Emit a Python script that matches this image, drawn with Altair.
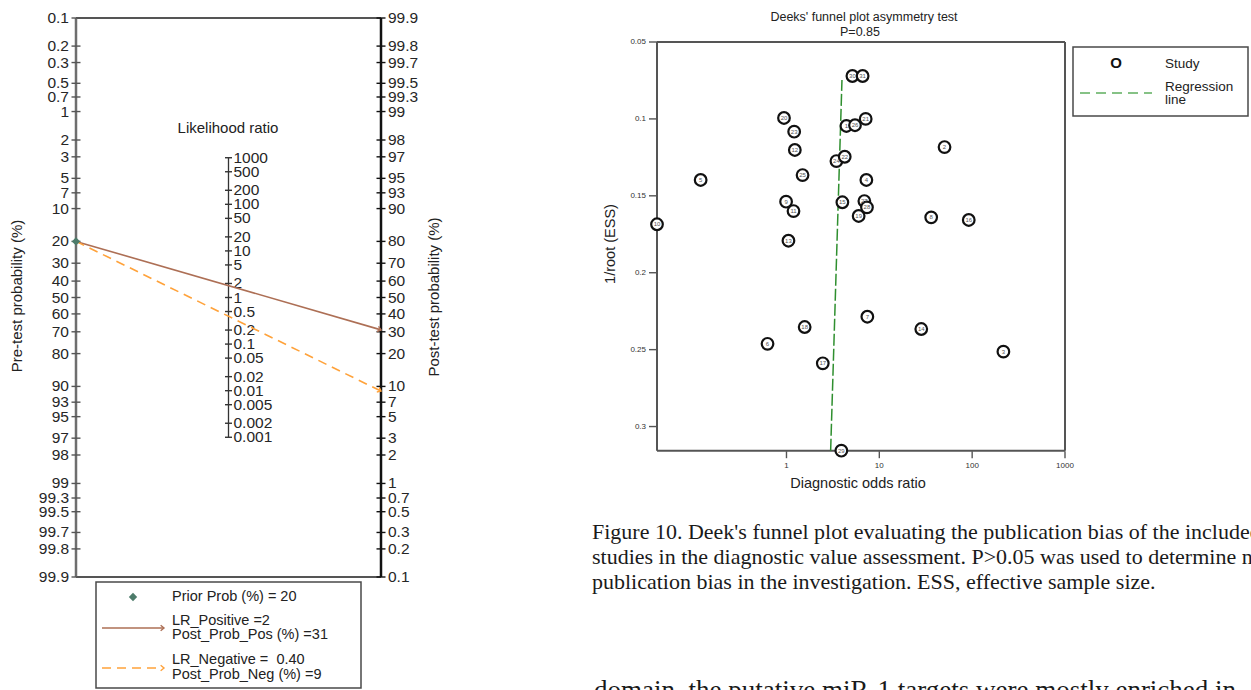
import math

import altair as alt
import pandas as pd

CANVAS_W, CANVAS_H = 1251, 690
SANS = "Liberation Sans"
SERIF = "Liberation Serif"

# ---------------- Fagan nomogram inputs ----------------
PROB_TICKS = [0.1, 0.2, 0.3, 0.5, 0.7, 1, 2, 3, 5, 7, 10, 20, 30, 40, 50, 60,
              70, 80, 90, 93, 95, 97, 98, 99, 99.3, 99.5, 99.7, 99.8, 99.9]
LR_TICKS = [1000, 500, 200, 100, 50, 20, 10, 5, 2, 1, 0.5, 0.2, 0.1, 0.05,
            0.02, 0.01, 0.005, 0.002, 0.001]
PRIOR_PROB = 20
LR_POSITIVE = 2
POST_PROB_POS = 31
LR_NEGATIVE = 0.40
POST_PROB_NEG = 9

# ---------------- Deeks' funnel plot inputs ----------------
STUDY = [30, 31, 20, 23, 12, 25, 5, 1, 26, 21, 24, 22, 4, 9, 11, 15,
         27, 28, 19, 10, 13, 2, 8, 16, 3, 14, 7, 18, 6, 17, 29]
DOR = [5.13, 6.61, 0.94, 1.21, 1.23, 1.49, 0.119, 4.42, 5.47, 7.13, 3.45,
       4.24, 7.25, 0.99, 1.19, 4.0, 6.90, 7.36, 5.99, 0.0403, 1.05, 50.4,
       36.2, 91.9, 217, 28.3, 7.43, 1.57, 0.625, 2.46, 3.90]
INV_ROOT_ESS = [0.0721, 0.0721, 0.0994, 0.1083, 0.1202, 0.1365, 0.1397,
                0.1046, 0.1041, 0.1000, 0.1274, 0.1246, 0.1397, 0.1538,
                0.1599, 0.1542, 0.1534, 0.1575, 0.1631, 0.1685, 0.1792,
                0.1183, 0.1640, 0.1657, 0.2513, 0.2366, 0.2286, 0.2353,
                0.2462, 0.2589, 0.3157]
REG_DOR = [3.96, 2.99]
REG_INV_ROOT_ESS = [0.0747, 0.3157]
DOR_TICKS = [1, 10, 100, 1000]
ESS_TICKS = [0.05, 0.1, 0.15, 0.2, 0.25, 0.3]
DEEKS_P = 0.85

CAPTION = [
    "Figure 10. Deek's funnel plot evaluating the publication bias of the included",
    "studies in the diagnostic value assessment. P>0.05 was used to determine no",
    "publication bias in the investigation. ESS, effective sample size.",
]
BODY_LINE = "domain, the putative miR-1 targets were mostly enriched in"

# ---------------- colours ----------------
POS_COLOR = "#ad6f55"
NEG_COLOR = "#ffa23a"
PRIOR_COLOR = "#4d7b6a"
REG_COLOR = "#2f8f2f"
REG_LEGEND_COLOR = "#86c286"
AXIS_GREY = "#555555"


def log_odds(p):
    return math.log10(p / (100 - p))


# ---------------- nomogram geometry (pixel ranges of the scales) ----------------
NOM_X_RANGE = [76, 381]
NOM_Y_RANGE = [18, 577]
U_MAX = log_odds(max(PROB_TICKS))
nom_x = alt.Scale(domain=[0, 2], range=NOM_X_RANGE)
nom_y = alt.Scale(domain=[-U_MAX, U_MAX], range=NOM_Y_RANGE)


def nx(field):
    return alt.X(f"{field}:Q", scale=nom_x, axis=None)


def ny(field):
    return alt.Y(f"{field}:Q", scale=nom_y, axis=None)


pre_df = pd.DataFrame({"pos": 0.0, "u": [log_odds(p) for p in PROB_TICKS],
                       "label": [f"{p:g}" for p in PROB_TICKS]})
post_df = pd.DataFrame({"pos": 2.0, "u": [-log_odds(p) for p in PROB_TICKS],
                        "label": [f"{p:g}" for p in PROB_TICKS]})
lr_df = pd.DataFrame({"pos": 1.0, "u": [-math.log10(v) / 2 for v in LR_TICKS],
                      "label": [f"{v:g}" for v in LR_TICKS]})

u_prior = log_odds(PRIOR_PROB)
u_post_pos = -log_odds(POST_PROB_POS)
u_post_neg = -log_odds(POST_PROB_NEG)

pos_line = pd.DataFrame({"pos": [0.0, 2.0], "u": [u_prior, u_post_pos]})
neg_line = pd.DataFrame({"pos": [0.0, 2.0], "u": [u_prior, u_post_neg]})
prior_pt = pd.DataFrame({"pos": [0.0], "u": [u_prior]})


def seg(x, x2, u, u2):
    return pd.DataFrame({"x": [x], "x2": [x2], "u": [u], "u2": [u2]})


def rule_layer(df, color, width):
    return alt.Chart(df).mark_rule(color=color, strokeWidth=width).encode(
        x=nx("x"), x2=alt.X2("x2"), y=ny("u"), y2=alt.Y2("u2"))


def arrow_angle(u_end):
    px_per_x = (NOM_X_RANGE[1] - NOM_X_RANGE[0]) / 2
    px_per_u = (NOM_Y_RANGE[1] - NOM_Y_RANGE[0]) / (2 * U_MAX)
    return math.degrees(math.atan2((u_end - u_prior) * px_per_u, 2 * px_per_x))


CHEVRON = "M-1,-0.8L0,0L-1,0.8"

nom_frame = [
    rule_layer(seg(0, 2, -U_MAX, -U_MAX), AXIS_GREY, 2),
    rule_layer(seg(0, 2, U_MAX, U_MAX), AXIS_GREY, 2),
    rule_layer(seg(0, 0, -U_MAX, U_MAX), "#6e6e6e", 2.5),
    rule_layer(seg(2, 2, -U_MAX, U_MAX), "#111111", 2.5),
    rule_layer(seg(1, 1, lr_df["u"].min(), lr_df["u"].max()), "#333333", 1.3),
]


def cross_ticks(df, color, size):
    return alt.Chart(df).mark_tick(orient="horizontal", color=color, size=size,
                                   thickness=1.4, opacity=1).encode(
        x=nx("pos"), y=ny("u"))


def tick_labels(df, dx, align):
    return alt.Chart(df).mark_text(font=SANS, fontSize=15.5, color="#262626",
                                   align=align, baseline="middle", dx=dx).encode(
        x=nx("pos"), y=ny("u"), text="label:N")


nom_lines = [
    alt.Chart(pos_line).mark_line(color=POS_COLOR, strokeWidth=1.6).encode(
        x=nx("pos"), y=ny("u")),
    alt.Chart(neg_line).mark_line(color=NEG_COLOR, strokeWidth=1.6,
                                  strokeDash=[9, 6]).encode(
        x=nx("pos"), y=ny("u")),
    alt.Chart(pos_line.tail(1)).mark_point(
        shape=CHEVRON, filled=False, color=POS_COLOR, strokeWidth=1.4, size=45,
        opacity=1, angle=arrow_angle(u_post_pos)).encode(x=nx("pos"), y=ny("u")),
    alt.Chart(neg_line.tail(1)).mark_point(
        shape=CHEVRON, filled=False, color=NEG_COLOR, strokeWidth=1.4, size=45,
        opacity=1, angle=arrow_angle(u_post_neg)).encode(x=nx("pos"), y=ny("u")),
    alt.Chart(prior_pt).mark_point(shape="diamond", filled=True, color=PRIOR_COLOR,
                                   size=70, opacity=1).encode(x=nx("pos"), y=ny("u")),
]

nomogram = alt.layer(
    *nom_frame,
    cross_ticks(pre_df, AXIS_GREY, 9),
    cross_ticks(post_df, "#111111", 9),
    cross_ticks(lr_df, "#333333", 7),
    tick_labels(pre_df, -7, "right"),
    tick_labels(post_df, 7, "left"),
    tick_labels(lr_df, 5, "left"),
    *nom_lines,
)

# ---------------- funnel plot ----------------
F_X_RANGE = [657, 1065]
F_Y_RANGE = [42, 450.7]
X_MIN, X_MAX = min(DOR), max(DOR_TICKS)
Y_MIN, Y_MAX = min(ESS_TICKS), max(INV_ROOT_ESS)
f_x = alt.Scale(type="log", domain=[X_MIN, X_MAX], range=F_X_RANGE)
f_y = alt.Scale(domain=[Y_MIN, Y_MAX], range=F_Y_RANGE)


def fx(field="dor"):
    return alt.X(f"{field}:Q", scale=f_x, axis=None)


def fy(field="inv"):
    return alt.Y(f"{field}:Q", scale=f_y, axis=None)


studies = pd.DataFrame({"study": STUDY, "dor": DOR, "inv": INV_ROOT_ESS})
reg = pd.DataFrame({"dor": REG_DOR, "inv": REG_INV_ROOT_ESS})
# four sides of the plot frame: bottom, left, top, right
f_frame = pd.DataFrame({"dor": [X_MIN, X_MIN, X_MIN, X_MAX],
                        "dor2": [X_MAX, X_MIN, X_MAX, X_MAX],
                        "inv": [Y_MAX, Y_MIN, Y_MIN, Y_MIN],
                        "inv2": [Y_MAX, Y_MAX, Y_MIN, Y_MAX]})
x_ticks = pd.DataFrame({"dor": DOR_TICKS, "inv": Y_MAX,
                        "label": [f"{v:g}" for v in DOR_TICKS]})
y_ticks = pd.DataFrame({"dor": X_MIN, "inv": ESS_TICKS,
                        "label": [f"{v:g}" for v in ESS_TICKS]})

funnel = alt.layer(
    alt.Chart(f_frame).mark_rule(color=AXIS_GREY, strokeWidth=2).encode(
        x=fx(), x2=alt.X2("dor2"), y=fy(), y2=alt.Y2("inv2")),
    alt.Chart(x_ticks).mark_tick(orient="vertical", size=7, thickness=1.4,
                                 color=AXIS_GREY, opacity=1, yOffset=4).encode(
        x=fx(), y=fy()),
    alt.Chart(y_ticks).mark_tick(orient="horizontal", size=8, thickness=1.4,
                                 color=AXIS_GREY, opacity=1, xOffset=-4).encode(
        x=fx(), y=fy()),
    alt.Chart(x_ticks).mark_text(font=SANS, fontSize=8, color="#333333",
                                 baseline="top", dy=11).encode(
        x=fx(), y=fy(), text="label:N"),
    alt.Chart(y_ticks).mark_text(font=SANS, fontSize=8, color="#333333",
                                 align="right", baseline="middle", dx=-11).encode(
        x=fx(), y=fy(), text="label:N"),
    alt.Chart(reg).mark_line(color=REG_COLOR, strokeWidth=1.5,
                             strokeDash=[12, 3]).encode(x=fx(), y=fy()),
    alt.Chart(studies).mark_circle(size=135, fill="white", stroke="#111111",
                                   strokeWidth=2.2, opacity=1).encode(
        x=fx(), y=fy()),
    alt.Chart(studies).mark_text(font=SANS, fontSize=6, color="#555555").encode(
        x=fx(), y=fy(), text="study:N"),
)


# ---------------- text and legend annotations ----------------
def note(text, x, y, size=14.5, font=SANS, angle=0, align="left",
         color="#222222", weight="normal", baseline="middle"):
    return alt.Chart().mark_text(text=text, font=font, fontSize=size, angle=angle,
                                 align=align, baseline=baseline, color=color,
                                 fontWeight=weight).encode(
        x=alt.value(x), y=alt.value(y))


def box(x, x2, y, y2):
    return alt.Chart().mark_rect(fill="white", stroke="#4a4a4a", strokeWidth=1.5).encode(
        x=alt.value(x), x2=alt.value(x2), y=alt.value(y), y2=alt.value(y2))


def hline(x, x2, y, color, dash=None, width=1.6):
    kw = {"strokeDash": dash} if dash else {}
    return alt.Chart().mark_rule(color=color, strokeWidth=width, **kw).encode(
        x=alt.value(x), x2=alt.value(x2), y=alt.value(y))


def chevron(x, y, color):
    return alt.Chart().mark_point(shape=CHEVRON, filled=False, color=color,
                                  strokeWidth=1.4, size=45, opacity=1).encode(
        x=alt.value(x), y=alt.value(y))


annotations = [
    note("Likelihood ratio", 228, 128, size=15, align="center"),
    note("Pre-test probability (%)", 17, 296, size=15, angle=270, align="center"),
    note("Post-test probability (%)", 434, 297, size=15, angle=270, align="center"),
    # nomogram legend
    box(96, 361, 582, 688),
    alt.Chart().mark_point(shape="diamond", filled=True, color=PRIOR_COLOR,
                           size=70, opacity=1).encode(x=alt.value(133), y=alt.value(597)),
    note(f"Prior Prob (%) = {PRIOR_PROB}", 172, 597),
    hline(102, 164, 628, POS_COLOR),
    chevron(164, 628, POS_COLOR),
    note(f"LR_Positive ={LR_POSITIVE}", 172, 621),
    note(f"Post_Prob_Pos (%) ={POST_PROB_POS}", 172, 635),
    hline(102, 162, 668, NEG_COLOR, dash=[9, 6]),
    chevron(164, 668, NEG_COLOR),
    note(f"LR_Negative = \u00a0{LR_NEGATIVE:.2f}", 172, 660),
    note(f"Post_Prob_Neg (%) ={POST_PROB_NEG}", 172, 675),
    # funnel plot titles
    note("Deeks' funnel plot asymmetry test", 864, 17, size=12.5, align="center"),
    note(f"P={DEEKS_P}", 860, 32, size=12.5, align="center"),
    note("1/root (ESS)", 611, 244, size=14.5, angle=270, align="center"),
    note("Diagnostic odds ratio", 858, 484, size=14.5, align="center"),
    # funnel legend
    box(1073, 1248, 47, 116),
    note("O", 1116, 63, size=15, align="center", weight="bold", color="#111111"),
    note("Study", 1165, 64, size=13.5),
    hline(1080, 1152, 93, REG_LEGEND_COLOR, dash=[10, 6], width=2),
    note("Regression", 1165, 87, size=13.5),
    note("line", 1165, 100, size=13.5),
]

for i, line in enumerate(CAPTION):
    annotations.append(note(line, 592, 531.7 + 25 * i, size=22, font=SERIF,
                            color="#1a1a1a"))
annotations.append(note(BODY_LINE, 594, 678, size=27, font=SERIF,
                        color="#1a1a1a", baseline="top"))

chart = (
    alt.layer(nomogram, funnel, *annotations)
    .resolve_scale(x="independent", y="independent")
    .properties(width=CANVAS_W, height=CANVAS_H, padding=0,
                autosize=alt.AutoSizeParams(type="none"), background="white")
    .configure_view(strokeWidth=0)
)

chart.save("out.html", embed_options={"renderer": "svg", "actions": False})
